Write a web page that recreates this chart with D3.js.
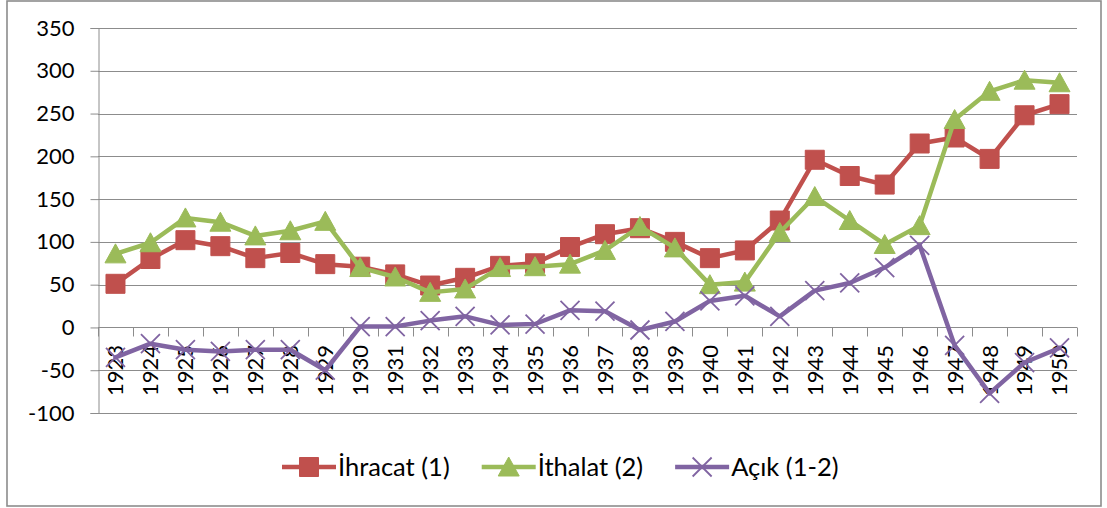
<!DOCTYPE html>
<html>
<head>
<meta charset="utf-8">
<script src="https://cdn.jsdelivr.net/npm/d3@7.9.0/dist/d3.min.js"></script>
<style>
    html, body { margin: 0; padding: 0; background: #fff; }
    svg { display: block; font-family: Lato, 'Open Sans', sans-serif; }
</style>
</head>
<body>
<svg id="chart" width="1107" height="508"></svg>
<script>
// values
var years = [1923, 1924, 1925, 1926, 1927, 1928, 1929, 1930, 1931, 1932, 1933, 1934, 1935, 1936,
    1937, 1938, 1939, 1940, 1941, 1942, 1943, 1944, 1945, 1946, 1947, 1948, 1949, 1950]
var ihracat = [51, 80, 102, 95, 81, 87, 74, 71, 62, 49, 58, 72, 75, 94,
    109, 116, 100, 81, 90, 125, 196, 177, 167, 215, 222, 197, 248, 261]
var ithalat = [86, 99, 128, 123, 107, 113, 124, 70, 59, 41, 45, 70, 71, 74,
    90, 118, 93, 50, 53, 111, 153, 125, 97, 119, 243, 276, 289, 286]
var acik = [-35, -19, -26, -28, -26, -26, -50, 1, 1, 8, 13, 3, 4, 20,
    19, -3, 7, 31, 37, 13, 43, 52, 70, 96, -21, -77, -41, -24]
var yTicks = [-100, -50, 0, 50, 100, 150, 200, 250, 300, 350]
var seriesNames = ['İhracat (1)', 'İthalat (2)', 'Açık (1-2)']

;(function () {
    var plot = { left: 98, right: 1077, top: 28, bottom: 413 }
    var GRID = '#8c8c8c'

    var series = [
        { name: seriesNames[0], values: ihracat, color: '#C0504D', marker: 'square' },
        { name: seriesNames[1], values: ithalat, color: '#9BBB59', marker: 'triangle' },
        { name: seriesNames[2], values: acik, color: '#8064A2', marker: 'x' },
    ]

    var svg = d3.select('#chart')

    // chart area border
    svg.append('rect')
        .attr('x', 7).attr('y', 1)
        .attr('width', 1094).attr('height', 505)
        .attr('fill', '#fff')
        .attr('stroke', GRID)
        .attr('stroke-width', 1.6)

    var x = d3.scaleBand().domain(years).range([plot.left, plot.right]).padding(0)
    var y = d3.scaleLinear().domain([-100, 350]).range([plot.bottom, plot.top])
    var cx = function (i) { return x(years[i]) + x.bandwidth() / 2 }

    // gridlines
    svg.append('g')
        .selectAll('line')
        .data(yTicks)
        .join('line')
        .attr('x1', plot.left).attr('x2', plot.right)
        .attr('y1', function (d) { return Math.round(y(d)) + 0.5 })
        .attr('y2', function (d) { return Math.round(y(d)) + 0.5 })
        .attr('stroke', GRID)
        .attr('stroke-width', 1)

    // value axis
    var yAxis = svg.append('g')
        .attr('transform', 'translate(' + (plot.left + 0.5) + ',0)')
        .call(d3.axisLeft(y).tickValues(yTicks).tickSize(8).tickPadding(16)
            .tickFormat(function (d) { return String(d) }))
    yAxis.select('.domain').attr('stroke', GRID)
    yAxis.selectAll('.tick line').attr('stroke', GRID)
    yAxis.selectAll('.tick text')
        .attr('fill', '#000')
        .attr('font-size', 22)
        .attr('font-family', 'Lato, sans-serif')

    // category axis crossing at zero
    var y0 = Math.round(y(0)) + 0.5
    var xAxis = svg.append('g').attr('transform', 'translate(0,' + y0 + ')')
    xAxis.append('line')
        .attr('x1', plot.left).attr('x2', plot.right)
        .attr('stroke', GRID)
    var bounds = years.map(function (d) { return x(d) }).concat([plot.right])
    xAxis.selectAll('line.tk')
        .data(bounds)
        .join('line')
        .attr('class', 'tk')
        .attr('x1', function (d) { return Math.round(d) + 0.5 })
        .attr('x2', function (d) { return Math.round(d) + 0.5 })
        .attr('y1', 0).attr('y2', 9)
        .attr('stroke', GRID)
    xAxis.selectAll('text')
        .data(years)
        .join('text')
        .attr('transform', function (d, i) { return 'translate(' + cx(i) + ',17.5) rotate(-90)' })
        .attr('text-anchor', 'end')
        .attr('dy', '0.36em')
        .attr('font-size', 22)
        .attr('fill', '#000')
        .text(function (d) { return String(d) })

    // markers
    function markerPath(type) {
        if (type === 'square') return 'M-9.5,-9.5H9.5V9.5H-9.5Z'
        if (type === 'triangle') return 'M0,-10L10.5,9L-10.5,9Z'
        return 'M-9.5,-9.5L9.5,9.5M9.5,-9.5L-9.5,9.5'
    }
    function drawMarker(g, type, color) {
        g.append('path')
            .attr('d', markerPath(type))
            .attr('fill', type === 'x' ? 'none' : color)
            .attr('stroke', color)
            .attr('stroke-width', type === 'x' ? 1.8 : 1)
    }

    var line = d3.line()
        .x(function (d, i) { return cx(i) })
        .y(function (d) { return y(d) })

    series.forEach(function (s) {
        var g = svg.append('g')
        g.append('path')
            .datum(s.values)
            .attr('d', line)
            .attr('fill', 'none')
            .attr('stroke', s.color)
            .attr('stroke-width', 4.5)
            .attr('stroke-linejoin', 'round')
            .attr('stroke-linecap', 'round')
        s.values.forEach(function (v, i) {
            var m = g.append('g').attr('transform', 'translate(' + cx(i) + ',' + y(v) + ')')
            drawMarker(m, s.marker, s.color)
        })
    })

    // legend
    var legend = svg.append('g').attr('transform', 'translate(0,467)')
    var lx = 282
    series.forEach(function (s) {
        var item = legend.append('g').attr('transform', 'translate(' + lx + ',0)')
        item.append('line')
            .attr('x1', 0).attr('x2', 54)
            .attr('stroke', s.color)
            .attr('stroke-width', 4.5)
        var m = item.append('g').attr('transform', 'translate(27,0)')
        drawMarker(m, s.marker, s.color)
        var t = item.append('text')
            .attr('x', 56)
            .attr('dy', '0.36em')
            .attr('font-size', 25.5)
            .attr('fill', '#000')
            .text(s.name)
        lx += 56 + t.node().getComputedTextLength() + 32
    })
})()
</script>
</body>
</html>
